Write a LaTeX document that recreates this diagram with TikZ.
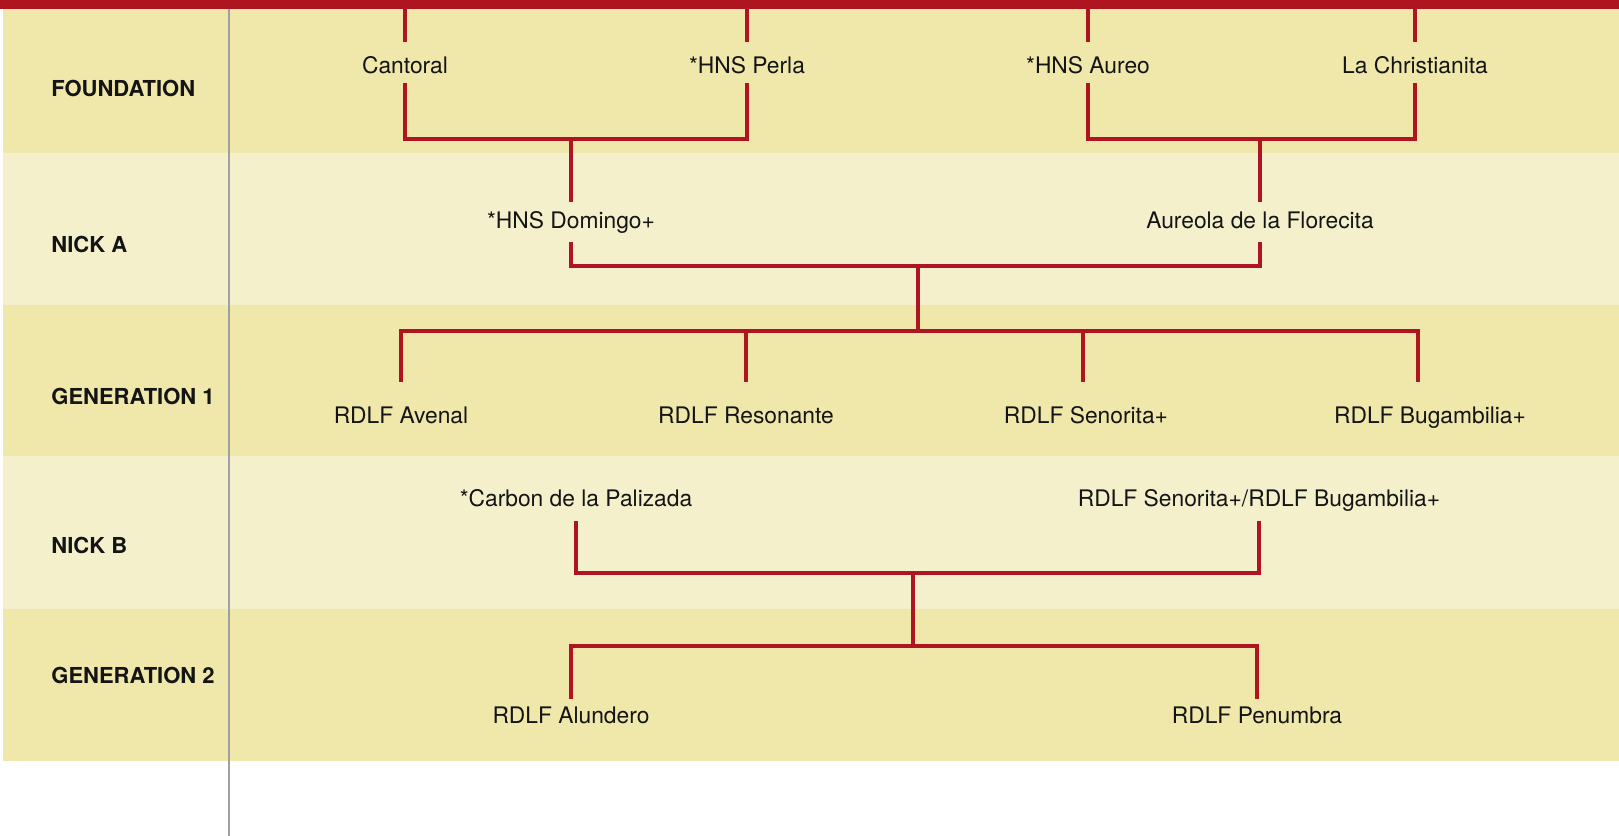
\documentclass[tikz,border=0pt]{standalone}
\usepackage{fontspec}
\setmainfont{TeX Gyre Heros}
\usepackage{tikz}

\definecolor{bandDark}{HTML}{F0E7AB}
\definecolor{bandLight}{HTML}{F5F0CC}
\definecolor{lineRed}{HTML}{AE1521}
\definecolor{ruleGray}{HTML}{A0A0A0}
\definecolor{ink}{HTML}{141414}

\begin{document}
\begin{tikzpicture}[x=0.5pt, y=-0.5pt,
		link/.style={draw=lineRed, line width=2.45pt},
		person/.style={anchor=base, inner sep=0pt, text height=8.5pt, text depth=0pt, text=ink, font=\fontsize{11.4pt}{14pt}\selectfont},
		gen/.style={anchor=base west, inner sep=0pt, text=ink, font=\fontsize{11pt}{13pt}\selectfont\bfseries}]
		\useasboundingbox (0,0) rectangle (1619,836);

		% bands
		\fill[bandDark] (3,9) rectangle (1619,153);
		\fill[bandLight] (3,153) rectangle (1619,305);
		\fill[bandDark] (3,305) rectangle (1619,456);
		\fill[bandLight] (3,456) rectangle (1619,609);
		\fill[bandDark] (3,609) rectangle (1619,761);
		\fill[lineRed] (0,0) rectangle (1619,9);
		\draw[ruleGray, line width=1pt] (229,9) -- (229,836);
		\coordinate (bar) at (0,9);

		% row labels
		\node (lfound) [gen] at (51,96) {FOUNDATION};
		\node (lnicka) [gen] at (51,252) {NICK A};
		\node (lgenone) [gen] at (51,404.5) {GENERATION 1};
		\node (lnickb) [gen] at (51,553) {NICK B};
		\node (lgentwo) [gen] at (51,683) {GENERATION 2};

		% foundation
		\node (cantoral) [person] at (405,73) {Cantoral};
		\node (perla) [person] at (747,73) {*HNS Perla};
		\node (aureo) [person] at (1088,73) {*HNS Aureo};
		\node (christianita) [person] at (1415,73) {La Christianita};
		\foreach \n in {cantoral, perla, aureo, christianita}
			\draw[link, shorten >=7pt] (\n |- bar) -- (\n.north);

		% nick A
		\node (domingo) [person] at (571,228) {*HNS Domingo+};
		\node (aureola) [person] at (1260,228) {Aureola de la Florecita};
		\coordinate (fa) at (571,139);
		\coordinate (fb) at (1260,139);
		\draw[link, shorten <=5pt, shorten >=5pt] (cantoral.south) |- (fa) -| (perla.south);
		\draw[link, shorten <=5pt, shorten >=5pt] (aureo.south) |- (fb) -| (christianita.south);
		\draw[link, shorten >=4.5pt] (fa) -- (domingo.north);
		\draw[link, shorten >=4.5pt] (fb) -- (aureola.north);

		% generation 1
		\node (avenal) [person] at (401,423) {RDLF Avenal};
		\node (resonante) [person] at (746,423) {RDLF Resonante};
		\node (senorita) [person] at (1086,423) {RDLF Senorita+};
		\node (bugambilia) [person] at (1430,423) {RDLF Bugambilia+};
		\coordinate (na) at (918,266);
		\coordinate (ga) at (918,331);
		\draw[link, shorten <=7pt, shorten >=7pt] (domingo.south) |- (na) -| (aureola.south);
		\draw[link] (na) -- (ga);
		\draw[link, shorten <=12pt, shorten >=12pt] (avenal.north) |- (ga) -| ([xshift=-6pt]bugambilia.north);
		\draw[link, shorten >=12pt] (resonante |- ga) -- (resonante.north);
		\draw[link, shorten >=12pt] ([xshift=-1.5pt]senorita |- ga) -- ([xshift=-1.5pt]senorita.north);

		% nick B
		\node (carbon) [person] at (576,506) {*Carbon de la Palizada};
		\node (senbug) [person] at (1259,506) {RDLF Senorita+/RDLF Bugambilia+};

		% generation 2
		\node (alundero) [person] at (571,723) {RDLF Alundero};
		\node (penumbra) [person] at (1257,723) {RDLF Penumbra};
		\coordinate (nb) at (913,573);
		\coordinate (gb) at (913,646);
		\draw[link, shorten <=7.5pt, shorten >=7.5pt] (carbon.south) |- (nb) -| (senbug.south);
		\draw[link] (nb) -- (gb);
		\draw[link, shorten <=3.5pt, shorten >=3.5pt] (alundero.north) |- (gb) -| (penumbra.north);

	\end{tikzpicture}
\end{document}
